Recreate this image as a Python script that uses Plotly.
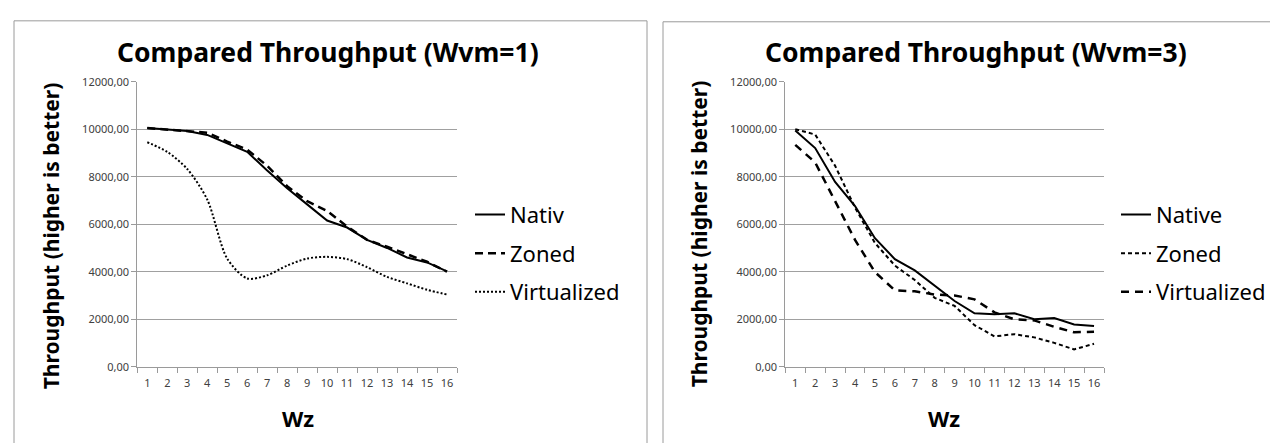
import plotly.graph_objects as go

# ---------------- data ----------------
wz = [str(i) for i in range(1, 17)]

left_native = [10050, 9980, 9920, 9760, 9410, 9045, 8260, 7510, 6835, 6155, 5860, 5340, 5000, 4600, 4390, 4015]
left_zoned = [10050, 9980, 9920, 9850, 9480, 9140, 8460, 7600, 6970, 6560, 5900, 5340, 5050, 4720, 4420, 4000]
left_virtualized = [9450, 9045, 8325, 7040, 4550, 3715, 3850, 4260, 4555, 4625, 4530, 4190, 3780, 3510, 3240, 3040]

right_native = [9950, 9205, 7780, 6765, 5410, 4530, 4055, 3400, 2765, 2250, 2210, 2250, 1995, 2050, 1780, 1710]
right_zoned = [10000, 9775, 8460, 6700, 5210, 4260, 3650, 2900, 2560, 1750, 1275, 1370, 1235, 1005, 730, 965]
right_virtualized = [9340, 8600, 6970, 5340, 3985, 3215, 3175, 3040, 3000, 2835, 2290, 1995, 1950, 1680, 1450, 1475]

y_tick_vals = [0, 2000, 4000, 6000, 8000, 10000, 12000]
y_tick_text = ["0,00", "2000,00", "4000,00", "6000,00", "8000,00", "10000,00", "12000,00"]

title_left = "Compared Throughput (Wvm=1)"
title_right = "Compared Throughput (Wvm=3)"
y_title = "Throughput (higher is better)"
x_title = "Wz"

# ---------------- layout helpers ----------------
W, H = 1278, 443
def px(x):
    return x / W
def py(y):
    return 1 - y / H

FONT = "Noto Sans"
fig = go.Figure()

# left chart
fig.add_trace(go.Scatter(x=wz, y=left_native, name="Nativ", mode="lines",
                         line=dict(color="black", width=2), xaxis="x", yaxis="y",
                         legend="legend", legendgroup="a"))
fig.add_trace(go.Scatter(x=wz, y=left_zoned, name="Zoned", mode="lines",
                         line=dict(color="black", width=2.5, dash="8px,5px"), xaxis="x", yaxis="y",
                         legend="legend", legendgroup="b"))
fig.add_trace(go.Scatter(x=wz, y=left_virtualized, name="Virtualized", mode="lines",
                         line=dict(color="black", width=2, dash="2px,2px", shape="spline", smoothing=0.8),
                         xaxis="x", yaxis="y", legend="legend", legendgroup="c"))

# right chart
fig.add_trace(go.Scatter(x=wz, y=right_native, name="Native", mode="lines",
                         line=dict(color="black", width=2), xaxis="x2", yaxis="y2",
                         legend="legend2", legendgroup="d"))
fig.add_trace(go.Scatter(x=wz, y=right_zoned, name="Zoned", mode="lines",
                         line=dict(color="black", width=2, dash="4px,3px"), xaxis="x2", yaxis="y2",
                         legend="legend2", legendgroup="e"))
fig.add_trace(go.Scatter(x=wz, y=right_virtualized, name="Virtualized", mode="lines",
                         line=dict(color="black", width=2.5, dash="8px,6px"), xaxis="x2", yaxis="y2",
                         legend="legend2", legendgroup="f"))

ydom = [py(363), py(68)]
xaxis_common = dict(type="category", showgrid=False, showline=True, linecolor="#9a9a9a", linewidth=1,
                    ticks="outside", tickson="boundaries", ticklen=5, tickcolor="#9a9a9a",
                    tickfont=dict(family=FONT, size=11, color="#404040"), ticklabelstandoff=6,
                    tickangle=0, range=[-0.5, 15.5], fixedrange=True)
yaxis_common = dict(range=[0, 12000], tickvals=y_tick_vals, ticktext=y_tick_text,
                    showgrid=True, gridcolor="#a0a0a0", gridwidth=1, showline=True,
                    linecolor="#9a9a9a", linewidth=1, ticks="outside", ticklen=5, tickcolor="#9a9a9a",
                    tickfont=dict(family=FONT, size=11, color="#404040"), zeroline=False, fixedrange=True)

legend_common = dict(font=dict(family=FONT, size=22, color="black"), bgcolor="rgba(0,0,0,0)",
                     traceorder="grouped", tracegroupgap=7, itemwidth=30,
                     xanchor="left", yanchor="top")

fig.update_layout(
    width=W, height=H,
    margin=dict(l=0, r=0, t=0, b=0),
    paper_bgcolor="white", plot_bgcolor="white",
    xaxis=dict(domain=[px(129.3), px(449)], anchor="y", **xaxis_common),
    yaxis=dict(domain=ydom, anchor="x", **yaxis_common),
    xaxis2=dict(domain=[px(777.3), px(1096)], anchor="y2", **xaxis_common),
    yaxis2=dict(domain=ydom, anchor="x2", **yaxis_common),
    legend=dict(x=px(462), y=py(184), **legend_common),
    legend2=dict(x=px(1108), y=py(184), **legend_common),
    showlegend=True,
)

annotations = [
    dict(text=title_left, x=px(320), y=py(37), font=dict(family=FONT, size=26.5, color="black", weight="bold")),
    dict(text=title_right, x=px(968), y=py(37), font=dict(family=FONT, size=26.5, color="black", weight="bold")),
    dict(text=y_title, x=px(43), y=py(228), textangle=-90, font=dict(family=FONT, size=21, color="black", weight="bold")),
    dict(text=y_title, x=px(691), y=py(226), textangle=-90, font=dict(family=FONT, size=21, color="black", weight="bold")),
    dict(text=x_title, x=px(290), y=py(416), font=dict(family=FONT, size=22, color="black", weight="bold")),
    dict(text=x_title, x=px(936), y=py(416), font=dict(family=FONT, size=22, color="black", weight="bold")),
]
for a in annotations:
    a.update(xref="paper", yref="paper", showarrow=False, xanchor="center", yanchor="middle")
fig.update_layout(annotations=annotations)

fig.update_layout(shapes=[
    dict(type="rect", xref="paper", yref="paper", x0=px(6), x1=px(639), y0=py(460), y1=py(5),
         line=dict(color="#9a9a9a", width=1), layer="below"),
    dict(type="rect", xref="paper", yref="paper", x0=px(655), x1=px(1300), y0=py(460), y1=py(6),
         line=dict(color="#9a9a9a", width=1), layer="below"),
])

fig.write_html("out.html")
